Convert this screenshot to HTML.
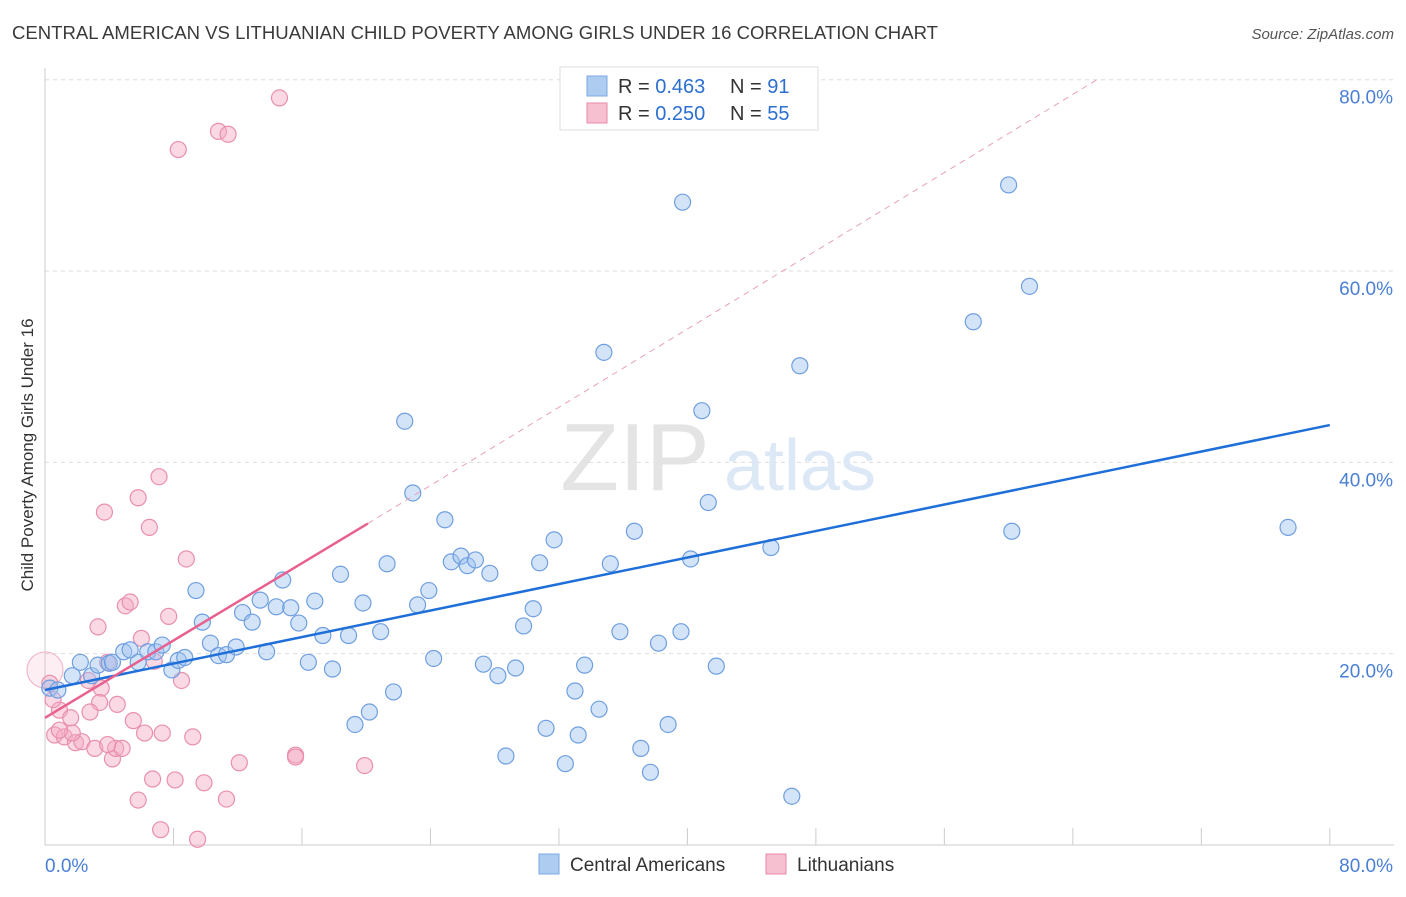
<!DOCTYPE html>
<html><head><meta charset="utf-8"><style>
body{margin:0;background:#fff;font-family:"Liberation Sans",sans-serif}
svg text{font-family:"Liberation Sans",sans-serif}
</style></head><body>
<svg id="chart" width="1406" height="892" viewBox="0 0 1406 892" xmlns="http://www.w3.org/2000/svg">
<text x="12" y="39" font-size="18" fill="#3a3a3a" textLength="926" lengthAdjust="spacingAndGlyphs">CENTRAL AMERICAN VS LITHUANIAN CHILD POVERTY AMONG GIRLS UNDER 16 CORRELATION CHART</text>
<text x="1394" y="39" font-size="15" fill="#555" text-anchor="end" font-style="italic">Source: ZipAtlas.com</text>
<g id="grid"></g>
<g id="wm">
<text x="635" y="490" font-size="96" fill="#e4e4e4" text-anchor="middle" font-family="Liberation Serif,serif">ZIP</text>
<text x="800" y="490" font-size="72" fill="#dce8f6" text-anchor="middle">atlas</text>
</g>
<g id="axes"></g>
<g id="pts"></g>
<g id="lines"></g>
<text transform="translate(33,455) rotate(-90)" font-size="17" fill="#333" text-anchor="middle">Child Poverty Among Girls Under 16</text>
<g>
<rect x="560" y="67" width="258" height="63" fill="#fff" stroke="#ddd"/>
<rect x="587" y="76" width="20" height="20" fill="#aecbf0" stroke="#7aaae6"/>
<rect x="587" y="103" width="20" height="20" fill="#f7c0d0" stroke="#e88aa8"/>
<text x="618" y="93" font-size="20" fill="#333">R = <tspan fill="#2c6fd0">0.463</tspan><tspan x="730">N = </tspan><tspan fill="#2c6fd0">91</tspan></text>
<text x="618" y="120" font-size="20" fill="#333">R = <tspan fill="#2c6fd0">0.250</tspan><tspan x="730">N = </tspan><tspan fill="#2c6fd0">55</tspan></text>
</g>
<g>
<rect x="539" y="854" width="20" height="20" fill="#aecbf0" stroke="#7aaae6"/>
<text x="570" y="871" font-size="19" fill="#333">Central Americans</text>
<rect x="766" y="854" width="20" height="20" fill="#f7c0d0" stroke="#e88aa8"/>
<text x="797" y="871" font-size="19" fill="#333">Lithuanians</text>
</g>
</svg>
<script>
const blueX=[0.3,0.8,1.7,2.2,2.9,3.3,4.0,4.2,4.9,5.3,5.8,6.4,6.9,7.3,7.9,8.3,8.7,9.4,9.8,10.3,10.8,11.3,11.9,12.3,12.9,13.4,13.8,14.4,14.8,15.3,15.8,16.4,16.8,17.3,17.9,18.4,18.9,19.3,19.8,20.2,20.9,21.3,21.7,22.4,22.9,23.2,23.9,24.2,24.9,25.3,25.9,26.3,26.8,27.7,27.3,28.2,28.7,29.3,29.8,30.4,30.8,31.2,31.7,32.4,33.0,33.2,33.6,34.5,34.8,35.2,35.8,36.7,37.1,37.7,38.2,38.8,39.6,39.7,40.2,40.9,41.3,41.8,45.2,46.5,47.0,57.8,60.0,60.2,61.3,77.4];
const blueY=[16.4,16.2,17.7,19.1,17.7,18.8,19.0,19.1,20.2,20.4,19.1,20.2,20.2,20.9,18.3,19.3,19.6,26.6,23.3,21.1,19.8,19.9,20.7,24.3,23.3,25.6,20.2,24.9,27.7,24.8,23.2,19.1,25.5,21.9,18.4,28.3,21.9,12.6,25.3,13.9,22.3,29.4,16.0,44.3,36.8,25.1,26.6,19.5,34.0,29.6,30.2,29.2,29.8,28.4,18.9,17.7,9.3,18.5,22.9,24.7,29.5,12.2,31.9,8.5,16.1,11.5,18.8,14.2,51.5,29.4,22.3,32.8,10.1,7.6,21.1,12.6,22.3,67.2,29.9,45.4,35.8,18.7,31.1,5.1,50.1,54.7,69.0,32.8,58.4,33.2];
const pinkX=[0,0.3,0.9,0.6,1.2,1.6,1.9,2.3,2.7,3.1,3.3,3.5,3.4,3.7,3.9,4.2,4.4,4.5,4.8,5.0,5.3,5.5,5.8,5.8,6.0,6.2,6.5,6.7,6.8,7.2,7.3,7.7,8.1,8.3,8.5,8.8,9.2,9.5,9.9,10.8,11.3,11.4,12.1,14.6,15.6,15.6,19.9,7.1,1.7,2.8,3.9,0.9,0.5];
const pinkY=[18.3,16.9,14.1,11.5,11.3,13.3,10.7,10.8,17.2,10.1,22.8,16.4,14.9,34.8,19.1,9.0,10.1,14.7,10.1,25.0,25.4,13.0,36.3,4.7,21.6,11.7,33.2,6.9,19.2,1.6,11.7,23.9,6.8,72.7,17.2,29.9,11.3,0.6,6.5,74.6,4.8,74.3,8.6,78.1,9.4,9.2,8.3,38.5,11.7,13.9,10.5,12.0,15.2];
const blueLine=[[0,16.2],[80,43.9]];
const pinkLine=[[0,13.3],[20.1,33.6]];
const pinkDash=[[20.1,33.6],[65.5,80]];
const yTicks=[20,40,60,80];
const yTickLabels=["20.0%","40.0%","60.0%","80.0%"];
const xTicks=[0,8,16,24,32,40,48,56,64,72,80];

const NS="http://www.w3.org/2000/svg";
const sx=v=>45+v*16.06, sy=v=>845-v*9.566;
function mk(p,t,a){const e=document.createElementNS(NS,t);for(const k in a)e.setAttribute(k,a[k]);document.getElementById(p).appendChild(e);return e;}
yTicks.forEach((t,i)=>{
 const g=mk('grid','line',{x1:45,x2:1394,y1:sy(t),y2:sy(t),stroke:'#ddd','stroke-dasharray':'4,4'});
 
 
 const l=mk('axes','text',{x:1393,y:sy(t)+24,'font-size':19,fill:'#4a7fd6','text-anchor':'end'});
 l.textContent=yTickLabels[i];
 
 
});
const ax=mk('axes','line',{x1:45,x2:1394,y1:845,y2:845,stroke:'#ccc'});


const ay=mk('axes','line',{x1:45,x2:45,y1:68,y2:845,stroke:'#ccc'});


xTicks.forEach(t=>{const e=mk('axes','line',{x1:sx(t),x2:sx(t),y1:828,y2:845,stroke:'#ccc'});
 
 });
const x0=mk('axes','text',{x:45,y:872,'font-size':19,fill:'#4a7fd6'});x0.textContent='0.0%';


const x1=mk('axes','text',{x:1393,y:872,'font-size':19,fill:'#4a7fd6','text-anchor':'end'});x1.textContent='80.0%';


pinkX.forEach((x,i)=>{const c=mk('pts','circle',{cx:sx(x),cy:sy(pinkY[i]),r:i==0?18:8,fill:i==0?'rgba(245,170,195,0.2)':'rgba(245,170,195,0.45)',stroke:i==0?'#f0b8ca':'#e98fae','stroke-width':1.2});
 
 });
blueX.forEach((x,i)=>{const c=mk('pts','circle',{cx:sx(x),cy:sy(blueY[i]),r:8,fill:'rgba(160,195,240,0.45)',stroke:'#6f9fe0','stroke-width':1.2});
 
 });
const bl=mk('lines','line',{x1:sx(blueLine[0][0]),y1:sy(blueLine[0][1]),x2:sx(blueLine[1][0]),y2:sy(blueLine[1][1]),stroke:'#1f6fd8','stroke-width':2.5});


const pd=mk('lines','line',{x1:sx(pinkDash[0][0]),y1:sy(pinkDash[0][1]),x2:sx(pinkDash[1][0]),y2:sy(pinkDash[1][1]),stroke:'#e8a0b8','stroke-width':1,'stroke-dasharray':'6,5'});


const pl=mk('lines','line',{x1:sx(pinkLine[0][0]),y1:sy(pinkLine[0][1]),x2:sx(pinkLine[1][0]),y2:sy(pinkLine[1][1]),stroke:'#e8608f','stroke-width':2.5});


</script>
</body></html>
